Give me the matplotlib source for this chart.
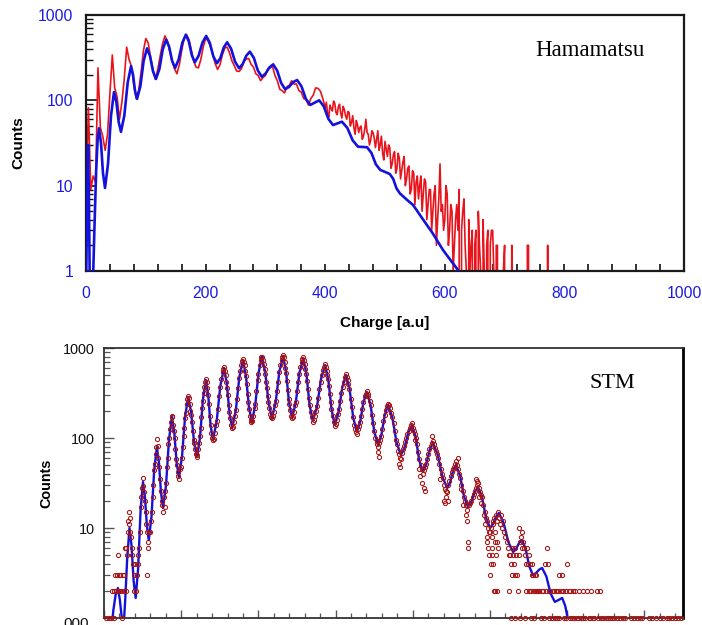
import numpy as np
import matplotlib
matplotlib.use("Agg")
import matplotlib.pyplot as plt
from matplotlib.ticker import MultipleLocator, LogLocator, NullFormatter

plt.rcParams['font.family'] = ['Liberation Sans', 'DejaVu Sans']

# ---------------- Top panel (Hamamatsu) ----------------
top_xticks = [0, 200, 400, 600, 800, 1000]
top_yticks = [1, 10, 100, 1000]
top_ytick_labels = ['1', '10', '100', '1000']

# measured spectrum (red), part A: one value every 4 charge units from 0 to 396
top_red_step_a = 4
top_red_counts_a = [
    6.5, 82, 9, 13, 11, 240, 48, 38, 26, 40,
    120, 340, 140, 110, 60, 95, 180, 420, 300, 250,
    150, 105, 130, 210, 380, 530, 470, 320, 230, 176,
    230, 330, 460, 570, 500, 380, 290, 235, 205, 260,
    380, 530, 585, 520, 390, 290, 245, 240, 300, 420,
    530, 500, 430, 340, 270, 230, 260, 340, 410, 420,
    360, 290, 255, 220, 218, 235, 285, 305, 310, 265,
    245, 205, 195, 170, 185, 195, 235, 240, 248, 195,
    170, 135, 130, 122, 145, 150, 170, 155, 155, 130,
    125, 105, 102, 88, 105, 115, 140, 138, 128, 105,
]
# part B: one value every 2 charge units from 400 to 780
top_red_start_b = 400
top_red_step_b = 2
top_red_counts_b = [
    82, 95, 70, 64, 88, 80, 75, 98, 92, 72, 68, 84, 90, 70, 62, 85, 78, 66, 60, 74,
    72, 50, 55, 66, 48, 40, 58, 52, 42, 48, 50, 35, 38, 45, 60, 42, 40, 30, 34, 44,
    42, 36, 28, 35, 44, 26, 30, 38, 24, 20, 33, 27, 22, 30, 28, 16, 18, 23, 25, 14,
    16, 24, 21, 12, 15, 19, 22, 10, 12, 16, 17, 8, 9, 15, 14, 6, 11, 13, 7, 10,
    13, 5, 8, 12, 11, 4, 6, 9, 9, 3, 5, 8, 10, 2, 4, 7, 18, 5, 6, 3,
    4, 10, 8, 2, 3, 6, 5, 1, 2, 4, 6, 3, 9, 0, 3, 5, 7, 2, 1, 0,
    4, 1, 2, 3, 0, 2, 3, 0, 5, 2, 1, 0, 4, 1, 0, 2, 3, 0, 2, 3,
    3, 1, 0, 2, 2, 0, 1, 0, 0, 1, 2, 0, 0, 1, 1, 0, 2, 0, 0, 1,
    0, 0, 1, 0, 0, 0, 0, 0, 0, 2, 2, 0, 0, 0, 1, 0, 0, 0, 0, 0,
    0, 0, 0, 0, 0, 0, 2, 0, 0, 0, 0,
]

# fitted curve (blue)
top_blue_x = [0, 2, 3.5, 5, 6.5, 11, 14, 17, 19.5, 21.7, 25.1, 28.4, 31.8, 36.8, 41.8,
              46.8, 50.7, 54.6, 58.5, 64.1, 69.7, 75.3, 78.6, 82, 85.3, 90.9, 96.4, 102,
              107, 112, 117, 122.7, 128.3, 134, 139, 144, 149, 155, 161, 167, 172, 177,
              182, 188.3, 194.7, 201, 207, 213, 219, 224.7, 230.3, 236, 242.7, 249.3,
              256, 262, 268, 274, 280.7, 287.3, 294, 300.3, 306.7, 313, 319.7, 326.3,
              333, 339.7, 346.3, 353, 360.3, 367.7, 375, 382.5, 390, 397.7, 405.3, 413,
              420.5, 428, 437, 446, 455, 462.5, 470, 477.3, 484.7, 492, 500, 508, 513.7,
              519.3, 525, 536, 547, 564, 580, 597, 610, 622, 632]
top_blue_counts = [0.5, 8, 30, 6, 0.5, 0.5, 3, 15, 35, 47, 31.6, 14.0, 9.4, 17.9, 65.8,
                   125, 96.1, 56.0, 42.7, 66.5, 161, 251, 201, 129, 104, 146, 290, 407,
                   331, 219, 178, 232, 394, 513, 425, 290, 240, 301, 471, 589, 489, 337,
                   279, 333, 475, 568, 472, 327, 272, 313, 416, 479, 402, 283,
                   238, 266, 333, 372, 314, 224, 189, 206, 243, 264, 223, 160,
                   135, 144, 163, 173, 146, 104, 88.3, 94, 100, 84.7, 60.7, 51.3,
                   53.7, 56.2, 47.5, 33.9, 28.6, 28.4, 28.2, 24.2, 17.8, 15.3, 14.5, 13.7, 12.0,
                   9.27, 8.1, 6.9, 5.93, 3.98, 2.75, 1.76, 1.33, 1.03, 0.6]

# ---------------- Bottom panel (STM) ----------------
bot_yticks = [1, 10, 100, 1000]
bot_ytick_labels = ['', '10', '100', '1000']

bot_blue_x = [18, 24, 30, 36, 41, 46, 50, 55, 60, 66,
              71.3, 76.7, 82, 88.3, 94.7, 101, 106, 111, 116, 123,
              130, 137, 142.3, 147.7, 153, 160.7, 168.3, 176, 182, 188,
              194, 202, 210, 218, 225.7, 233.3, 241, 248.7, 256.3, 264,
              270, 276, 282, 291.7, 301.3, 311, 318, 325, 332, 341.3,
              350.7, 360, 367.7, 375.3, 383, 391.7, 400.3, 409, 417.7, 426.3,
              435, 444.7, 454.3, 464, 471.7, 479.3, 487, 496.7, 506.3, 516,
              524.3, 532.7, 541, 551.7, 562.3, 573, 581.3, 589.7, 598, 607.7,
              617.3, 627, 636.3, 645.7, 655, 663.7, 672.3, 681, 690.7, 700.3,
              710, 718.7, 727.3, 736, 747, 758, 769, 778.7, 788.3, 798,
              807.3, 816.7, 826, 834.7, 843.3, 852, 864.3, 876.7, 889, 896.7,
              904.3, 912, 922.3, 932.7, 943, 951.7, 960.3, 969, 979.3, 989.7,
              1000, 1007.7, 1015.3, 1023, 1035.3, 1047.7, 1060, 1067.7, 1075.3, 1083,
              1092.3, 1101.7, 1111, 1119, 1127, 1135, 1146, 1157, 1168, 1177,
              1187, 1195, 1203, 1210]
bot_blue_counts = [0.6, 1.2, 1.8, 2.15, 1.6, 1.0, 0.7, 1.6, 4.5, 10,
                   6.4, 2.61, 1.67, 3.5, 15.5, 32.4, 22.4, 10.7, 7.36, 13.3,
                   43.8, 79.4, 53.8, 24.6, 16.7, 29.9, 95.5, 171, 117, 54.1,
                   36.9, 61.5, 171, 286, 195, 90.3, 61.5, 101, 269, 441,
                   301, 140, 95.1, 151, 378, 600, 408, 190, 129, 200,
                   476, 736, 495, 224, 151, 228, 525, 794, 537, 247,
                   167, 248, 548, 815, 548, 248, 167, 245, 527, 774,
                   518, 231, 155, 221, 453, 647, 441, 205, 139, 192,
                   364, 501, 348, 168, 117, 151, 251, 324, 231, 117,
                   83.6, 108, 180, 233, 169, 89.1, 64.7, 78.3, 115, 139,
                   103, 56.5, 41.9, 50.5, 73.1, 87.9, 65.9, 37.1, 27.8, 32.2,
                   43.3, 50.1, 38.3, 22.4, 17.1, 19.5, 25.1, 28.6, 22.0, 13.0,
                   10, 11.0, 13.3, 14.7, 11.4, 6.95, 5.41, 5.85, 6.82, 7.36,
                   5.89, 3.76, 3.01, 3.15, 3.44, 3.6, 2.9, 1.87, 1.51, 1.58,
                   1.67, 1.36, 0.91, 0.74]

# measured points (red circles): (charge, counts)
stm_points = [
    (5, 1), (12, 1), (18, 1), (22, 2), (25, 1), (27, 2), (29, 3), (31, 2), (33, 3), (35, 5), (36, 2), (38, 3),
    (40, 2), (42, 3), (44, 2), (47, 1), (49, 3), (51, 2), (53, 3), (55, 6), (56, 2), (58, 6),
    (60, 5), (62, 9), (63, 12), (64, 15), (66, 11), (67, 9), (68, 13), (70, 8), (72, 6), (73, 5), (75, 4),
    (77, 3), (79, 2), (81, 4), (83, 2), (85, 3), (87, 5),
    (89, 4), (91, 6), (93, 9), (95, 17), (97, 22), (99, 28), (101, 36), (102, 29), (104, 25), (106, 20),
    (108, 15), (110, 11), (111, 3), (112, 9), (114, 7), (115, 6), (117, 9),
    (120, 9), (122, 12), (124, 15), (126, 22), (128, 30), (130, 44), (132, 52), (134, 66), (136, 80), (137, 98),
    (139, 82), (141, 60), (143, 48), (145, 35), (147, 26), (149, 20), (151, 18), (153, 15), (155, 22), (157, 17),
    (159, 26), (161, 32), (163, 48), (165, 60), (167, 85), (169, 100), (171, 125), (173, 150), (175, 172),
    (177, 175), (179, 140), (181, 120), (183, 100), (185, 75), (187, 58), (189, 50), (191, 42), (193, 38),
    (195, 35), (197, 45),
    (199, 48), (201, 60), (204, 80), (206, 105), (208, 130), (210, 165), (212, 190), (214, 240), (216, 270),
    (218, 290), (220, 280), (222, 240), (224, 200), (226, 180), (228, 150), (230, 120), (232, 95), (234, 88),
    (236, 75), (238, 66), (240, 62), (242, 64),
    (244, 75), (246, 88), (248, 105), (250, 130), (252, 170), (254, 215), (256, 260), (258, 320), (260, 370),
    (262, 420), (264, 450), (266, 420), (268, 360), (270, 300), (272, 240), (274, 175), (276, 140), (278, 115),
    (280, 100), (282, 96), (284, 98),
    (287, 115), (290, 140), (292, 155), (295, 210), (298, 290), (301, 370), (304, 450), (307, 540), (309, 590),
    (311, 610), (313, 560), (315, 500), (317, 420), (319, 360), (321, 300), (323, 230), (325, 195), (327, 165),
    (329, 140), (331, 130), (333, 132),
    (336, 150), (339, 175), (341, 205), (344, 270), (347, 360), (350, 460), (353, 560), (356, 650), (358, 710),
    (360, 750), (362, 700), (364, 640), (366, 560), (368, 490), (370, 400), (372, 310), (374, 250), (376, 210),
    (378, 175), (380, 160), (382, 150), (384, 155),
    (387, 175), (390, 215), (392, 240), (395, 330), (398, 440), (400, 520), (403, 640), (406, 730), (408, 790),
    (410, 800), (412, 740), (414, 660), (416, 580), (418, 520), (420, 420), (422, 360), (424, 290), (426, 250),
    (428, 215), (431, 185), (433, 170), (435, 165), (437, 175),
    (440, 195), (443, 230), (445, 260), (448, 330), (451, 420), (454, 540), (457, 640), (460, 740), (462, 800),
    (464, 830), (466, 790), (468, 700), (470, 600), (472, 530), (474, 430), (476, 340), (478, 270), (480, 240),
    (482, 205), (485, 175), (487, 168), (489, 172),
    (492, 195), (495, 230), (497, 250), (500, 330), (503, 420), (506, 520), (509, 620), (512, 700), (514, 760),
    (516, 790), (518, 740), (520, 660), (522, 590), (524, 520), (526, 430), (528, 350), (530, 280), (533, 230),
    (535, 195), (538, 170), (541, 150), (543, 158),
    (546, 175), (549, 200), (552, 225), (555, 280), (558, 350), (561, 420), (564, 500), (567, 570), (570, 620),
    (573, 660), (575, 620), (577, 560), (579, 500), (581, 450), (583, 380), (585, 310), (587, 250), (589, 210),
    (592, 175), (595, 150), (598, 135), (600, 142),
    (603, 160), (606, 185), (609, 210), (612, 260), (615, 320), (618, 370), (621, 420), (624, 480), (627, 510),
    (629, 480), (631, 440), (633, 400), (636, 350), (639, 270), (642, 220), (645, 170), (648, 140), (651, 125),
    (653, 118), (656, 112), (658, 125), (660, 135),
    (663, 150), (666, 175), (669, 210), (672, 250), (675, 290), (678, 310), (681, 330), (683, 310), (685, 290),
    (688, 260), (691, 230), (694, 180), (697, 145), (700, 120), (703, 100), (706, 92), (708, 85), (709, 70),
    (710, 80), (712, 88), (713, 62), (715, 95),
    (718, 105), (721, 125), (724, 155), (727, 180), (730, 205), (733, 225), (736, 240), (738, 235), (741, 215),
    (744, 190), (747, 170), (750, 145), (753, 120), (756, 95), (759, 85), (762, 72), (763, 52), (765, 66),
    (767, 60), (768, 48), (769, 58), (771, 68),
    (774, 75), (777, 82), (780, 90), (783, 100), (786, 112), (789, 120), (792, 128), (795, 140), (798, 145),
    (800, 130), (802, 120), (805, 110), (806, 95), (808, 100), (811, 85), (814, 70), (815, 45), (817, 58),
    (819, 38), (820, 50), (823, 45), (824, 32), (826, 40), (828, 44), (829, 28), (832, 26),
    (831, 48), (834, 52), (837, 58), (840, 66), (843, 75), (846, 82), (849, 88), (851, 105), (852, 92),
    (854, 85), (857, 78), (860, 72), (863, 66), (866, 60), (869, 52), (870, 35), (872, 45), (875, 40),
    (878, 36), (880, 20), (881, 30), (883, 19), (884, 27), (886, 22), (887, 26), (889, 25), (891, 20),
    (892, 30), (895, 33), (898, 38), (901, 42), (904, 45), (907, 48), (910, 52), (912, 55), (914, 50),
    (917, 45), (918, 60), (920, 40), (923, 36), (925, 27), (926, 30), (929, 26), (930, 18), (932, 22),
    (935, 20), (937, 14), (938, 18), (940, 12), (941, 16), (942, 6), (943, 7), (946, 18),
    (949, 19), (952, 20), (955, 22), (958, 24), (961, 26), (963, 35), (964, 28), (966, 30), (967, 33),
    (969, 32), (971, 28), (972, 22), (974, 25), (976, 19), (977, 23), (980, 22), (983, 18), (985, 14),
    (986, 15), (988, 11), (989, 13), (991, 8), (992, 12), (993, 7), (995, 10), (996, 6), (997, 9), (998, 5),
    (999, 3), (1000, 9), (1002, 4),
    (1003, 10), (1004, 6), (1005, 8), (1006, 5), (1007, 12), (1008, 4), (1009, 11), (1010, 2), (1011, 13),
    (1012, 7), (1013, 9), (1014, 2), (1015, 14), (1016, 5), (1017, 12), (1018, 2), (1019, 7), (1020, 6),
    (1021, 15), (1023, 13), (1025, 11), (1028, 14), (1031, 10), (1034, 12), (1037, 9), (1040, 8), (1043, 7),
    (1046, 6), (1049, 5),
    (1050, 2), (1052, 5), (1054, 4), (1056, 6), (1058, 3), (1060, 5), (1062, 4), (1064, 3), (1066, 6),
    (1068, 5), (1070, 3), (1072, 2), (1074, 5), (1076, 10), (1078, 7), (1080, 8), (1082, 6), (1084, 9),
    (1086, 7), (1088, 6), (1090, 5), (1092, 4), (1094, 2), (1096, 6), (1098, 4), (1100, 5), (1102, 2),
    (1104, 4), (1106, 2), (1108, 3), (1110, 4), (1112, 3), (1114, 2), (1116, 3), (1118, 2), (1120, 3), (1122, 2),
    (1125, 2), (1128, 2), (1132, 1), (1135, 2), (1138, 2), (1142, 4), (1145, 2), (1148, 6), (1150, 4),
    (1153, 2), (1156, 2), (1160, 1), (1163, 2), (1166, 2), (1170, 2), (1173, 1), (1176, 2), (1180, 3),
    (1183, 2), (1186, 3), (1189, 2), (1192, 1), (1196, 2), (1200, 4), (1204, 2), (1208, 2), (1212, 1),
    (1216, 2), (1220, 2), (1225, 1), (1230, 2), (1236, 1), (1240, 2), (1245, 1), (1250, 2), (1256, 1),
    (1262, 2), (1270, 1), (1276, 2), (1284, 2), (1292, 1), (1300, 1), (1310, 1), (1322, 1), (1336, 1),
    (1350, 1), (1364, 1), (1380, 1), (1395, 1), (1412, 1), (1430, 1), (1448, 1), (1465, 1), (1480, 1), (1495, 1),
    (1055, 1), (1065, 1), (1078, 1), (1090, 1), (1105, 1), (1115, 1), (1140, 1), (1152, 1), (1168, 1),
    (1178, 1), (1198, 1), (1206, 1), (1218, 1), (1228, 1), (1242, 1), (1258, 1), (1266, 1), (1280, 1),
    (1288, 1), (1305, 1), (1316, 1), (1330, 1), (1344, 1), (1372, 1), (1388, 1), (1420, 1), (1440, 1),
    (1458, 1), (1472, 1), (1488, 1),
]
stm_x = [p[0] for p in stm_points]
stm_counts = [p[1] for p in stm_points]

# ---------------- Figure ----------------
W, H = 702, 625
fig = plt.figure(figsize=(W / 100, H / 100), dpi=100, facecolor='white')
ax1 = fig.add_axes([86 / W, 1 - 271 / H, 598 / W, 256 / H])
ax2 = fig.add_axes([104 / W, 1 - 618 / H, 579 / W, 270 / H])

RED = '#e8141c'
BLUE = '#1212dc'
LABEL_BLUE = '#1a1ae6'

top_red_x = np.concatenate([np.arange(len(top_red_counts_a)) * top_red_step_a,
                            top_red_start_b + np.arange(len(top_red_counts_b)) * top_red_step_b])
top_red_counts = list(top_red_counts_a) + list(top_red_counts_b)

ax1.set_yscale('log', nonpositive='clip')
ax1.plot(top_red_x, top_red_counts, color=RED, lw=1.2, zorder=2)
ax1.plot(top_blue_x, top_blue_counts, color=BLUE, lw=1.9, zorder=3)
ax1.set_xlim(0, 1000)
ax1.set_ylim(1, 1000)
ax1.set_xticks(top_xticks)
ax1.set_xticklabels([str(t) for t in top_xticks])
ax1.xaxis.set_minor_locator(MultipleLocator(40))
ax1.set_yticks(top_yticks)
ax1.set_yticklabels(top_ytick_labels)
ax1.yaxis.set_minor_locator(LogLocator(base=10, subs=np.arange(2, 10)))
ax1.yaxis.set_minor_formatter(NullFormatter())
ax1.tick_params(axis='both', which='both', direction='in', colors='#111111',
                labelcolor=LABEL_BLUE, labelsize=11.3, top=False, right=False)
ax1.tick_params(axis='x', which='major', length=5, width=1.2, pad=11)
ax1.tick_params(axis='x', which='minor', length=5, width=1.2)
ax1.tick_params(axis='y', which='major', length=8, width=1.2, pad=9)
ax1.tick_params(axis='y', which='minor', length=5, width=1.0)
for s in ax1.spines.values():
    s.set_linewidth(1.6)
    s.set_color('#1a1a1a')
ax1.set_xlabel('Charge [a.u]', fontsize=11, fontweight='bold')
ax1.xaxis.set_label_coords(0.5, -0.176)
ax1.set_ylabel('Counts', fontsize=11, fontweight='bold')
ax1.yaxis.set_label_coords(-0.102, 0.5)
ax1.text(0.751, 0.863, 'Hamamatsu', transform=ax1.transAxes, fontsize=16.5,
         family=['Liberation Serif', 'DejaVu Serif'], ha='left', va='center')

# bottom panel
ax2.set_yscale('log', nonpositive='clip')
ax2.plot(bot_blue_x, bot_blue_counts, color=BLUE, lw=1.7, zorder=2)
ax2.plot(stm_x, stm_counts, linestyle='none', marker='o', ms=3.0, mfc='none',
         mec='#a81414', mew=0.75, zorder=3, clip_on=False)
ax2.set_xlim(0, 1500)
ax2.set_ylim(1, 1000)
ax2.xaxis.set_major_locator(MultipleLocator(200))
ax2.xaxis.set_minor_locator(MultipleLocator(40))
ax2.set_xticklabels([])
ax2.set_yticks(bot_yticks)
ax2.set_yticklabels(bot_ytick_labels)
ax2.yaxis.set_minor_locator(LogLocator(base=10, subs=np.arange(2, 10)))
ax2.yaxis.set_minor_formatter(NullFormatter())
ax2.tick_params(axis='both', which='both', direction='in', colors='#555555',
                labelcolor='#111111', labelsize=10.4, top=False, right=False)
ax2.tick_params(axis='x', which='major', length=6, width=1.0)
ax2.tick_params(axis='x', which='minor', length=3.5, width=0.9)
ax2.tick_params(axis='y', which='major', length=7, width=1.0, pad=6.5)
ax2.tick_params(axis='y', which='minor', length=4, width=0.9)
for s in ax2.spines.values():
    s.set_linewidth(1.3)
    s.set_color('#333333')
ax2.spines['right'].set_linewidth(2.0)
ax2.spines['right'].set_color('#000000')
ax2.set_ylabel('Counts', fontsize=10.4, fontweight='bold')
ax2.yaxis.set_label_coords(-0.088, 0.5)
ax2.text(0.839, 0.870, 'STM', transform=ax2.transAxes, fontsize=16,
         family=['Liberation Serif', 'DejaVu Serif'], ha='left', va='center')

# partially visible tick label cut by the lower edge (as in the reference)
fig.text(63 / W, 1 - 617.5 / H, '000', fontsize=11, ha='left', va='top', color='#111111')

fig.savefig('out.png', dpi=100, facecolor='white')
